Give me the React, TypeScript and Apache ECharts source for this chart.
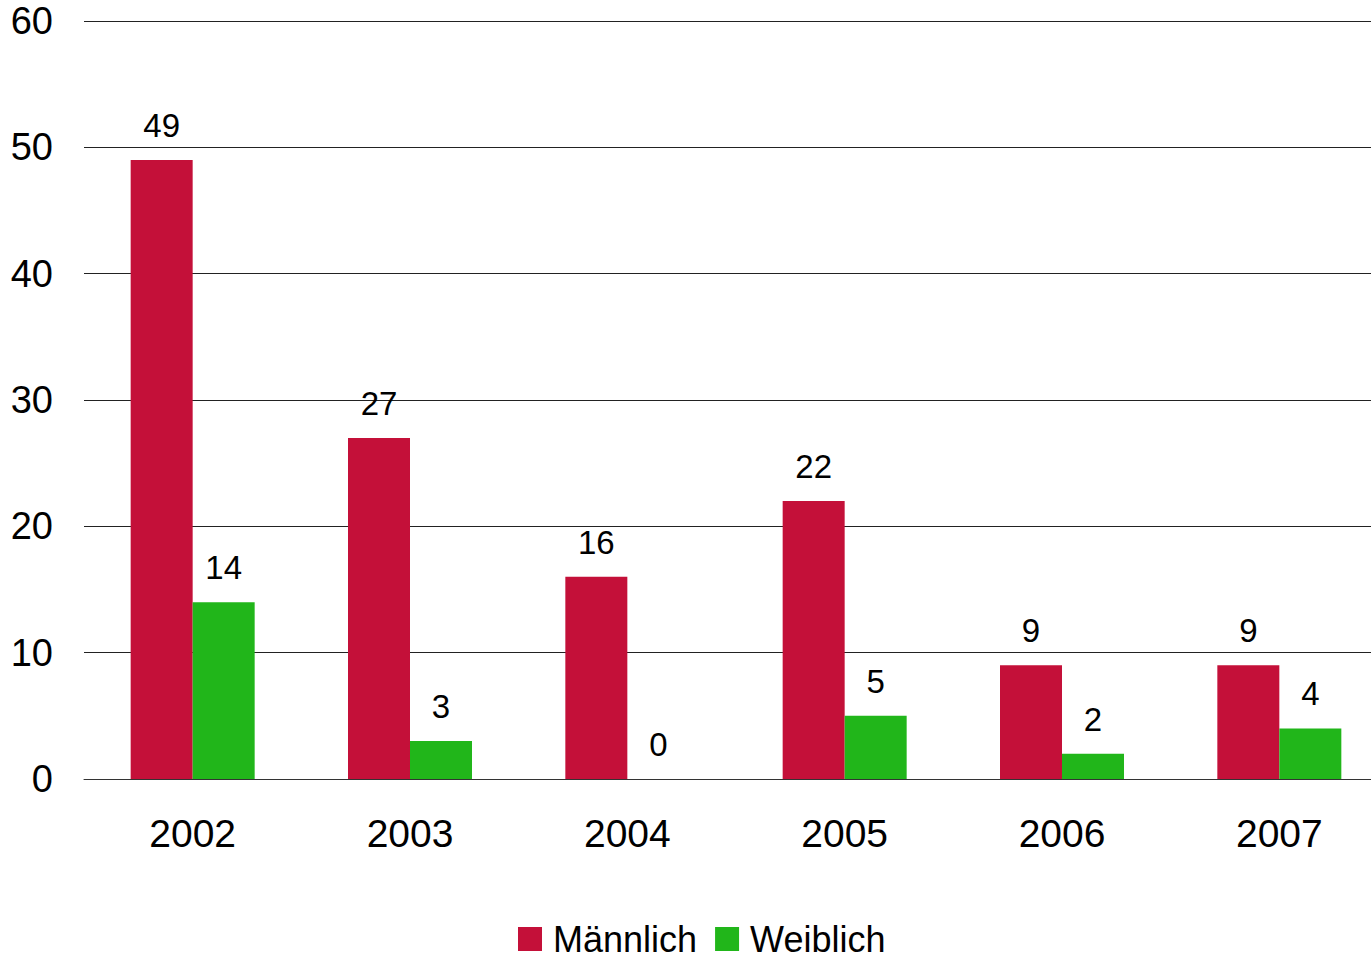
import React, { useEffect, useRef } from "react";
import * as echarts from "echarts";

const categories = ["2002", "2003", "2004", "2005", "2006", "2007"];
const maleValues = [49, 27, 16, 22, 9, 9];
const femaleValues = [14, 3, 0, 5, 2, 4];
const seriesNames = ["Männlich", "Weiblich"];

const FONT = "'Liberation Sans', Arial, sans-serif";

export default function App() {
  const ref = useRef<HTMLDivElement>(null);
  useEffect(() => {
    if (!ref.current) return;
    const chart = echarts.init(ref.current, undefined, { renderer: "svg" });
    const label = {
      show: true,
      position: "top",
      distance: 18,
      color: "#000",
      fontFamily: FONT,
      fontSize: 33,
    };
    chart.setOption({
      animation: false,
      grid: { left: 84, right: 2, top: 21, bottom: 182, containLabel: false },
      legend: {
        left: 518,
        top: 921,
        padding: 0,
        itemWidth: 24,
        itemHeight: 24,
        itemGap: 18,
        icon: "rect",
        textStyle: { fontFamily: FONT, fontSize: 36, color: "#000", padding: [0, 0, 0, 6] },
        data: seriesNames,
      },
      xAxis: {
        type: "category",
        data: categories,
        axisLine: { lineStyle: { color: "#333", width: 1 } },
        axisTick: { show: false },
        axisLabel: { color: "#000", fontFamily: FONT, fontSize: 39, margin: 35 },
      },
      yAxis: {
        type: "value",
        min: 0,
        max: 60,
        interval: 10,
        axisLine: { show: false },
        axisTick: { show: false },
        splitLine: { lineStyle: { color: "#222", width: 1 } },
        axisLabel: { color: "#000", fontFamily: FONT, fontSize: 38, margin: 31 },
      },
      series: [
        {
          name: seriesNames[0],
          type: "bar",
          data: maleValues,
          barWidth: 62,
          barGap: "0%",
          itemStyle: { color: "#C41039" },
          label,
        },
        {
          name: seriesNames[1],
          type: "bar",
          data: femaleValues,
          barWidth: 62,
          barGap: "0%",
          itemStyle: { color: "#21B61A" },
          label,
        },
      ],
    });
    return () => chart.dispose();
  }, []);
  return (
    <div
      style={{ position: "absolute", left: 0, top: 0, width: 1371, height: 961, overflow: "hidden" }}
    >
      <div ref={ref} style={{ position: "absolute", left: 0, top: 0, width: 1390, height: 961 }} />
    </div>
  );
}
